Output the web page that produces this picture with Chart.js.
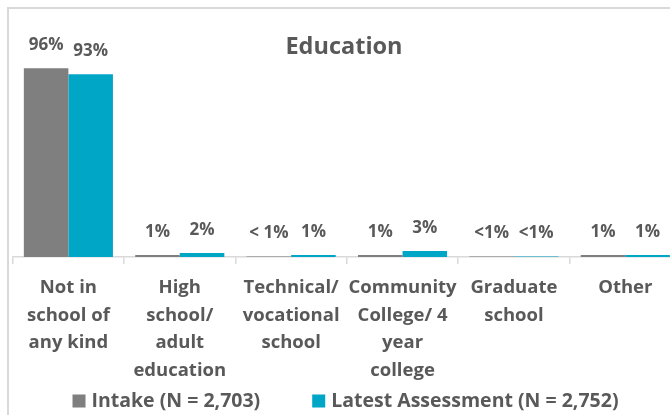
<!DOCTYPE html>
<html><head><meta charset="utf-8">
<script src="https://cdn.jsdelivr.net/npm/chart.js@4/dist/chart.umd.min.js"></script>
<style>
html,body{margin:0;padding:0;overflow:hidden;background:#fff;width:670px;height:415px}
#wrap{position:absolute;left:0;top:0;width:691px;height:415px}
</style>
</head><body><div id="wrap"><canvas id="c" width="691" height="415"></canvas></div>
<script>
const categories = [
  ['Not in','school of','any kind'],
  ['High','school/','adult','education'],
  ['Technical/','vocational','school'],
  ['Community','College/ 4','year','college'],
  ['Graduate','school'],
  ['Other']
];
const intakeValues = [96, 1, 0.2, 1, 0.2, 1];
const latestValues = [93, 2, 1, 3, 0.2, 1];
const intakeLabels = ['96%', '1%', '< 1%', '1%', '<1%', '1%'];
const latestLabels = ['93%', '2%', '1%', '3%', '<1%', '1%'];
const seriesNames = ['Intake (N = 2,703)', 'Latest Assessment (N = 2,752)'];
const seriesColors = ['#7f7f7f', '#00a6c6'];
const chartTitle = 'Education';

const FONT = '"Open Sans", sans-serif';
const TEXT = '#595959';
const valueLabels = [intakeLabels, latestLabels];

const framePlugin = {
  id: 'frame',
  beforeDraw(chart) {
    const ctx = chart.ctx;
    ctx.save();
    ctx.fillStyle = '#fff';
    ctx.fillRect(0, 0, chart.width, chart.height);
    ctx.strokeStyle = '#d9d9d9';
    ctx.lineWidth = 2;
    ctx.beginPath();
    ctx.moveTo(8, chart.height);
    ctx.lineTo(8, 8);
    ctx.lineTo(chart.width, 8);
    ctx.stroke();
    ctx.restore();
  }
};

const titlePlugin = {
  id: 'ttl',
  afterDraw(chart) {
    const ctx = chart.ctx;
    ctx.save();
    ctx.fillStyle = TEXT;
    ctx.font = 'bold 23.5px ' + FONT;
    ctx.textAlign = 'center';
    ctx.textBaseline = 'middle';
    ctx.fillText(chartTitle, 344, 47);
    ctx.restore();
  }
};

const labelPlugin = {
  id: 'vlabels',
  afterDatasetsDraw(chart) {
    const ctx = chart.ctx;
    ctx.save();
    ctx.fillStyle = TEXT;
    ctx.font = 'bold 17px ' + FONT;
    ctx.textAlign = 'center';
    ctx.textBaseline = 'middle';
    chart.data.datasets.forEach((ds, di) => {
      const meta = chart.getDatasetMeta(di);
      meta.data.forEach((bar, i) => {
        ctx.fillText(valueLabels[di][i], bar.x, bar.y - 23);
      });
    });
    ctx.restore();
  }
};

const legendPlugin = {
  id: 'customLegend',
  afterDraw(chart) {
    const ctx = chart.ctx;
    ctx.save();
    ctx.font = 'bold 19.5px ' + FONT;
    ctx.textBaseline = 'middle';
    const box = 13, gapText = 6, gapItem = 52;
    const widths = seriesNames.map(n => box + gapText + ctx.measureText(n).width);
    const total = widths.reduce((a, b) => a + b, 0) + gapItem * (widths.length - 1);
    let x = 345.5 - total / 2;
    const y = 401;
    seriesNames.forEach((n, i) => {
      ctx.fillStyle = chart.data.datasets[i].backgroundColor;
      ctx.fillRect(x, y - box / 2, box, box);
      ctx.fillStyle = TEXT;
      ctx.textAlign = 'left';
      ctx.fillText(n, x + box + gapText, y);
      x += widths[i] + gapItem;
    });
    ctx.restore();
  }
};

new Chart(document.getElementById('c'), {
  type: 'bar',
  data: {
    labels: categories,
    datasets: [
      { label: seriesNames[0], data: intakeValues, backgroundColor: seriesColors[0], categoryPercentage: 0.8, barPercentage: 1.0 },
      { label: seriesNames[1], data: latestValues, backgroundColor: seriesColors[1], categoryPercentage: 0.8, barPercentage: 1.0 }
    ]
  },
  options: {
    responsive: false,
    animation: false,
    layout: { padding: { top: 60.5, left: 12.7, right: 10, bottom: 21 } },
    plugins: { legend: { display: false }, tooltip: { enabled: false } },
    scales: {
      x: {
        grid: { offset: true, drawOnChartArea: false, color: '#d9d9d9', tickLength: 7, lineWidth: 1.5 },
        border: { color: '#d9d9d9', width: 1.5 },
        ticks: { color: TEXT, font: { family: FONT, size: 18.5, weight: 'bold', lineHeight: '27.5px' }, padding: 10, autoSkip: false, maxRotation: 0 }
      },
      y: { display: false, min: 0, max: 100 }
    }
  },
  plugins: [framePlugin, labelPlugin, titlePlugin, legendPlugin]
});
</script>
</body></html>
